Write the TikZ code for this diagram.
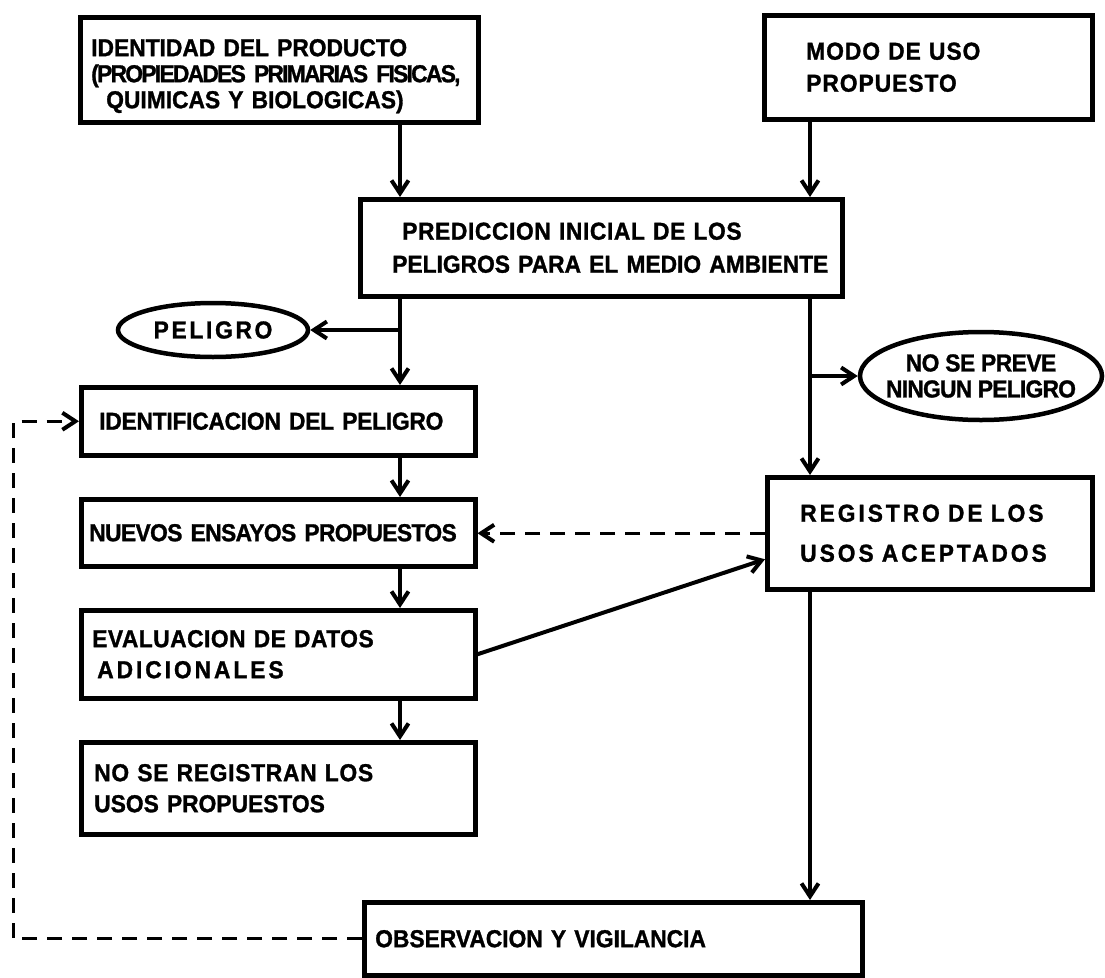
\documentclass[tikz,border=0pt]{standalone}
\usepackage{fontspec}
\setmainfont{Liberation Sans}
\newfontfamily\lblfont{Liberation Sans}[BoldFeatures={FakeStretch=0.93,FakeBold=1.2}]
\usetikzlibrary{arrows.meta,shapes.geometric}
% letter-spaced text: \trk{amount}{text}
\newcommand\trk[2]{{\addfontfeatures{LetterSpace=#1}#2}}

\begin{document}
\begin{tikzpicture}[x=1pt,y=-1pt,
  lbl/.style={font=\lblfont\bfseries\fontsize{24.5}{28}\selectfont},
  box/.style={lbl, draw, line width=4.5pt, inner sep=0pt, align=left, anchor=north west},
  oval/.style={lbl, draw, ellipse, line width=4.5pt, inner sep=0pt, align=center},
  flow/.style={line width=4pt, -{Straight Barb[length=13pt,width=17pt,line width=4pt]}},
  back/.style={flow, line width=3pt, dash pattern=on 15pt off 10pt},
]
\useasboundingbox (0,0) rectangle (1105,977);
\fill[white] (0,0) rectangle (1105,977);

% column lines and branch points
\coordinate (cl) at (400,0);
\coordinate (cr) at (810,0);
\coordinate (cd) at (13,0);
\coordinate (jl) at (400,330);
\coordinate (jr) at (810,376);

% boxes
\node[box, minimum width=398pt, minimum height=105pt, text width=376pt] (prod) at (78,15)
  {\rule{0pt}{30pt}IDENTIDAD DEL PRODUCTO\\[-2pt] \mbox{\trk{-7}{(PROPIEDADES PRIMARIAS FISICAS,}}\\[-2pt] \hspace*{15pt}QUIMICAS Y BIOLOGICAS)};
\node[box, minimum width=328pt, minimum height=104pt, text width=244pt] (uso) at (762,13)
  {\trk{4}{MODO DE USO}\\[4pt] \trk{4}{PROPUESTO}};
\node[box, minimum width=482pt, minimum height=97pt, text width=418pt] (pred) at (358,197)
  {\hspace*{10pt}\trk{2.5}{PREDICCION INICIAL DE LOS}\\[5pt] \mbox{PELIGROS PARA EL MEDIO AMBIENTE}};
\node[oval, minimum width=190pt, minimum height=54pt] (pel) at (213,330) {\trk{11}{PELIGRO}};
\node[box, minimum width=394pt, minimum height=68pt, text width=358pt] (ident) at (79,385)
  {\mbox{\trk{-1}{IDENTIFICACION DEL PELIGRO}}};
\node[oval, inner xsep=-18pt, minimum width=242pt, minimum height=88pt] (nsp) at (981,376)
  {\trk{-2}{NO SE PREVE}\\[-2pt] \trk{-3}{NINGUN PELIGRO}};
\node[box, minimum width=325pt, minimum height=112pt, text width=259pt] (reg) at (765,475)
  {\mbox{\trk{12}{REGISTRO DE LOS}}\\[12pt] \mbox{\trk{12}{USOS ACEPTADOS}}};
\node[box, minimum width=394pt, minimum height=67pt, text width=378pt] (nuevos) at (79,497)
  {\mbox{\trk{-2.5}{NUEVOS ENSAYOS PROPUESTOS}}};
\node[box, minimum width=394pt, minimum height=88pt, text width=372pt] (eval) at (79,608)
  {\trk{2}{EVALUACION DE DATOS}\\[3pt] \hspace*{5pt}\trk{12}{ADICIONALES}};
\node[box, minimum width=394pt, minimum height=92pt, text width=368pt] (noreg) at (79,740)
  {\trk{3}{NO SE REGISTRAN LOS}\\[3pt] USOS PROPUESTOS};
\node[box, minimum width=498pt, minimum height=73pt, text width=476pt] (obs) at (362,900)
  {OBSERVACION Y VIGILANCIA};

% connectors
\draw[flow] (prod.south -| cl) -- (pred.north -| cl);
\draw[flow] (uso.south -| cr) -- (pred.north -| cr);
\draw[flow] (pred.south -| cl) -- (ident.north -| cl);
\draw[flow] (jl) -- (pel.east);
\draw[flow] (pred.south -| cr) -- (reg.north -| cr);
\draw[flow] (jr) -- (nsp.west);
\draw[flow] (ident.south -| cl) -- (nuevos.north -| cl);
\draw[flow] (nuevos.south -| cl) -- (eval.north -| cl);
\draw[flow] (eval.south -| cl) -- (noreg.north -| cl);
\draw[flow] (eval.east) -- ([yshift=-26pt]reg.west);
\draw[back] (reg.west) -- (reg.west -| nuevos.east);
\draw[flow] (reg.south -| cr) -- (obs.north -| cr);
\draw[back] (obs.west) -- (obs.west -| cd) -- (ident.west -| cd) -- (ident.west);
\end{tikzpicture}
\end{document}
